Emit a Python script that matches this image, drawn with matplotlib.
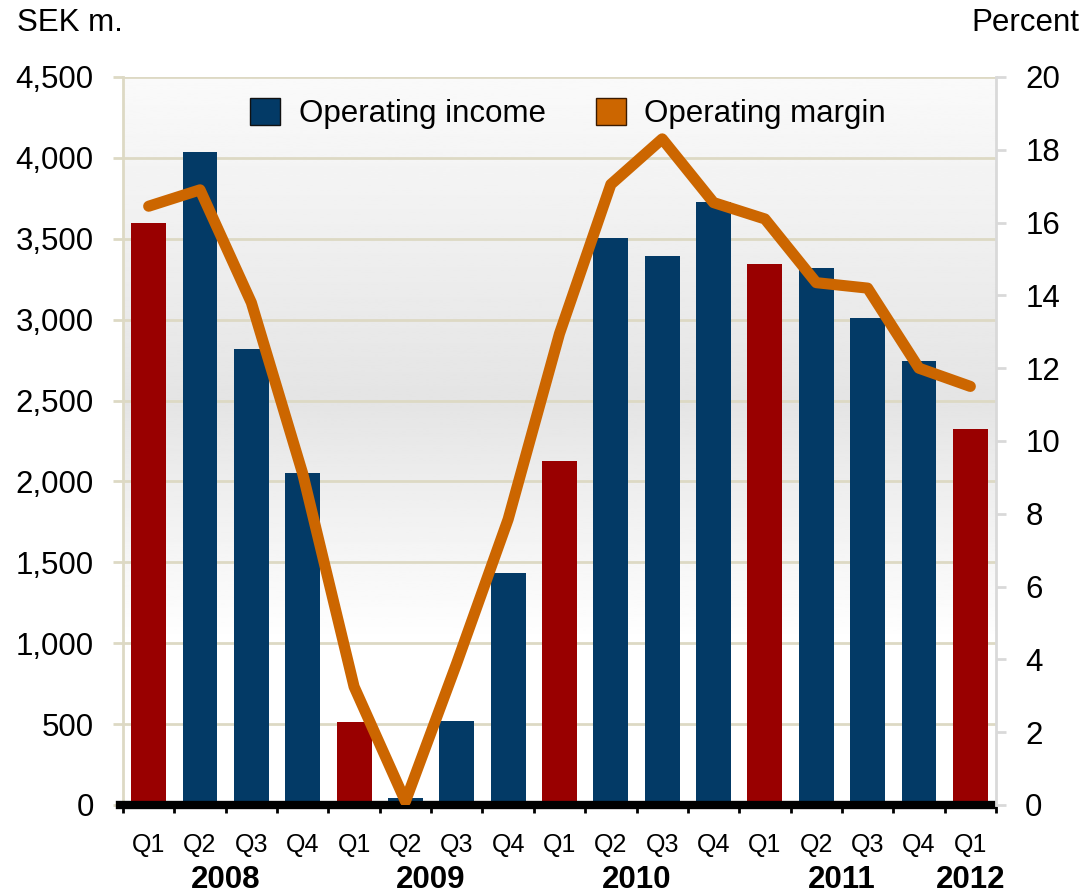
import matplotlib.pyplot as plt
import numpy as np
from matplotlib.patches import Patch

plt.rcParams['font.family'] = ['Liberation Sans', 'DejaVu Sans']

# data
quarters = ['Q1', 'Q2', 'Q3', 'Q4', 'Q1', 'Q2', 'Q3', 'Q4', 'Q1',
            'Q2', 'Q3', 'Q4', 'Q1', 'Q2', 'Q3', 'Q4', 'Q1']
years = ['2008', '2009', '2010', '2011', '2012']
year_pos = [1.5, 5.5, 9.5, 13.5, 16]
income = [3600, 4035, 2820, 2050, 510, 45, 520, 1435, 2125,
          3505, 3395, 3725, 3345, 3320, 3010, 2745, 2325]
margin = [16.45, 16.9, 13.8, 9.1, 3.25, 0.1, 3.9, 7.85, 12.95,
          17.05, 18.3, 16.55, 16.1, 14.35, 14.2, 12.0, 11.5]

BLUE = '#033a66'
RED = '#990000'
ORANGE = '#cc6600'
GRID = '#ddd9c4'
FS = 22.5

fig = plt.figure(figsize=(10.9, 8.94), dpi=100)
ax = fig.add_axes([123 / 1090, 89 / 894, 873 / 1090, 728 / 894])
ax2 = ax.twinx()

x = np.arange(len(income))
ax.set_xlim(-0.5, len(income) - 0.5)
ax.set_ylim(0, 4500)
ax2.set_ylim(0, 20)

# background gradient: light at top, grey in the middle, white at bottom
grad = np.interp(np.linspace(4500, 0, 300), [0, 1000, 2500, 4500],
                 [1.0, 1.0, 0.895, 0.98])
ax.imshow(grad[:, None], cmap='gray', vmin=0, vmax=1, aspect='auto',
          extent=(-0.5, len(income) - 0.5, 0, 4500), zorder=0)

for v in range(500, 4600, 500):
    ax.axhline(v, color=GRID, lw=2, zorder=1)

colors = [RED if q == 'Q1' else BLUE for q in quarters]
ax.bar(x, income, width=0.68, color=colors, zorder=2)

ax2.plot(x, margin, color=ORANGE, lw=8, solid_joinstyle='round',
         solid_capstyle='round', zorder=3)
ax.set_zorder(1)
ax2.set_zorder(2)
ax.patch.set_visible(False)
ax2.patch.set_visible(False)

# axes styling
for a in (ax, ax2):
    a.spines['top'].set_visible(False)
    a.spines['bottom'].set_visible(False)
ax.spines['right'].set_visible(False)
ax.spines['left'].set_color(GRID)
ax.spines['left'].set_linewidth(2)
ax2.spines['left'].set_visible(False)
ax2.spines['right'].set_color('#d9d9d9')
ax2.spines['right'].set_linewidth(2)

ax.set_yticks(range(0, 4501, 500))
ax.set_yticklabels([f'{v:,}' for v in range(0, 4501, 500)], fontsize=FS)
ax.tick_params(axis='y', length=7, width=2, color=GRID, pad=14)
ax2.set_yticks(range(0, 21, 2))
ax2.tick_params(axis='y', length=7, width=2, color='#d9d9d9', labelsize=FS, pad=14)

ax.set_xticks(np.arange(-0.5, len(income), 1))
ax.set_xticklabels([])
ax.tick_params(axis='x', length=6, width=2, color='black')
ax.axhline(0, color='black', lw=6, zorder=4, clip_on=False,
           xmin=-0.003, xmax=0.995)

for i, q in enumerate(quarters):
    ax.text(i, -250, q, ha='center', va='center', fontsize=18)
for yp, yr in zip(year_pos, years):
    ax.text(yp, -465, yr, ha='center', va='center', fontsize=FS,
            fontweight='bold')

fig.text(17 / 1090, 1 - 23 / 894, 'SEK m.', fontsize=FS, va='center', ha='left')
fig.text(1079 / 1090, 1 - 23 / 894, 'Percent', fontsize=FS, va='center', ha='right')

handles = [Patch(facecolor=BLUE, edgecolor='#111111', lw=1),
           Patch(facecolor=ORANGE, edgecolor='#3a1a00', lw=1)]
ax.legend(handles, ['Operating income', 'Operating margin'], loc='upper center',
          bbox_to_anchor=(0.51, 1.01), ncol=2, frameon=False, fontsize=FS,
          handlelength=0.95, handleheight=0.95, columnspacing=1.6, handletextpad=0.6)

fig.savefig('out.png', dpi=100)
